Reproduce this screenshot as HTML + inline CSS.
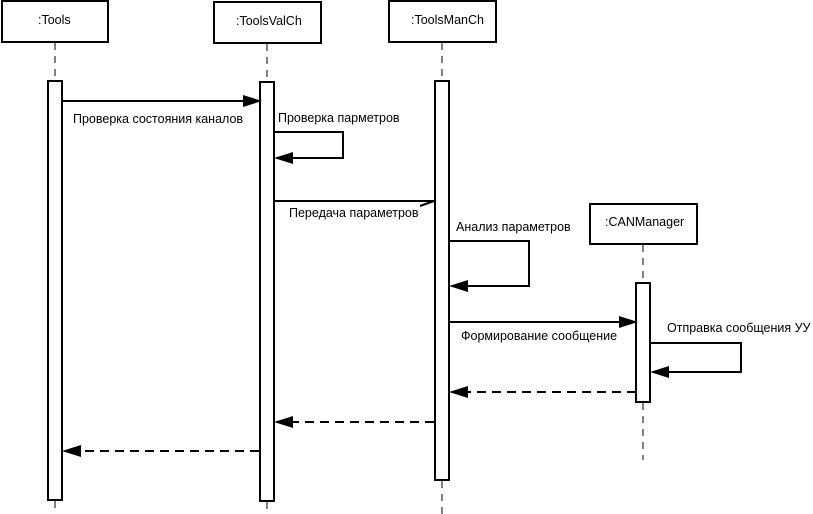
<!DOCTYPE html>
<html><head><meta charset="utf-8"><style>
html,body{margin:0;padding:0;background:#fff;}
svg{display:block;}
text{font-family:"Liberation Sans","DejaVu Sans",sans-serif;font-size:12.5px;fill:#000;}
</style></head><body>
<svg width="813" height="514" viewBox="0 0 813 514" xmlns="http://www.w3.org/2000/svg">
<g fill="#fff" stroke="#000" stroke-width="2">
<rect x="2" y="1" width="106" height="41"/>
<rect x="214" y="2" width="107" height="41"/>
<rect x="389" y="1" width="107" height="41"/>
<rect x="590" y="204" width="107" height="40"/>
</g>
<text x="38" y="24">:Tools</text>
<text x="236" y="25">:ToolsValCh</text>
<text x="411" y="24">:ToolsManCh</text>
<text x="605" y="226">:CANManager</text>
<g stroke="#000" stroke-width="1" stroke-dasharray="7,6">
<line x1="55" y1="43" x2="55" y2="81"/>
<line x1="55" y1="501" x2="55" y2="514"/>
<line x1="267" y1="44" x2="267" y2="82"/>
<line x1="267" y1="502" x2="267" y2="514"/>
<line x1="442" y1="43" x2="442" y2="81"/>
<line x1="442" y1="481" x2="442" y2="514"/>
<line x1="643" y1="245" x2="643" y2="283"/>
<line x1="643" y1="403" x2="643" y2="460"/>
</g>
<g fill="#fff" stroke="#000" stroke-width="2">
<rect x="48" y="81" width="14" height="419"/>
<rect x="260" y="82" width="14" height="419"/>
<rect x="435" y="81" width="14" height="399"/>
<rect x="636" y="283" width="14" height="119"/>
</g>
<g stroke="#000" stroke-width="2" fill="none">
<line x1="62" y1="101" x2="246" y2="101"/>
<polyline points="274,132 343,132 343,158 290,158"/>
<line x1="274" y1="201" x2="434" y2="201"/>
<line x1="420" y1="206" x2="434" y2="201"/>
<polyline points="449,241 529,241 529,286 465,286"/>
<line x1="449" y1="322" x2="622" y2="322"/>
<polyline points="650,343 741,343 741,372 666,372"/>
</g>
<g stroke="#000" stroke-width="2" stroke-dasharray="9,6" fill="none">
<line x1="636" y1="392" x2="465" y2="392"/>
<line x1="434" y1="422" x2="290" y2="422"/>
<line x1="259" y1="451" x2="78" y2="451"/>
</g>
<g fill="#000">
<polygon points="262,101 243,95 243,107"/>
<polygon points="274,158 293,152 293,164"/>
<polygon points="449,286 468,280 468,292"/>
<polygon points="638,322 619,316 619,328"/>
<polygon points="650,372 669,366 669,378"/>
<polygon points="449,392 468,386 468,398"/>
<polygon points="274,422 293,416 293,428"/>
<polygon points="62,451 81,445 81,457"/>
</g>
<text x="73" y="123">Проверка состояния каналов</text>
<text x="278" y="122">Проверка парметров</text>
<text x="289" y="217">Передача параметров</text>
<text x="456" y="231">Анализ параметров</text>
<text x="461" y="340">Формирование сообщение</text>
<text x="667" y="332">Отправка сообщения УУ</text>
</svg>
</body></html>
